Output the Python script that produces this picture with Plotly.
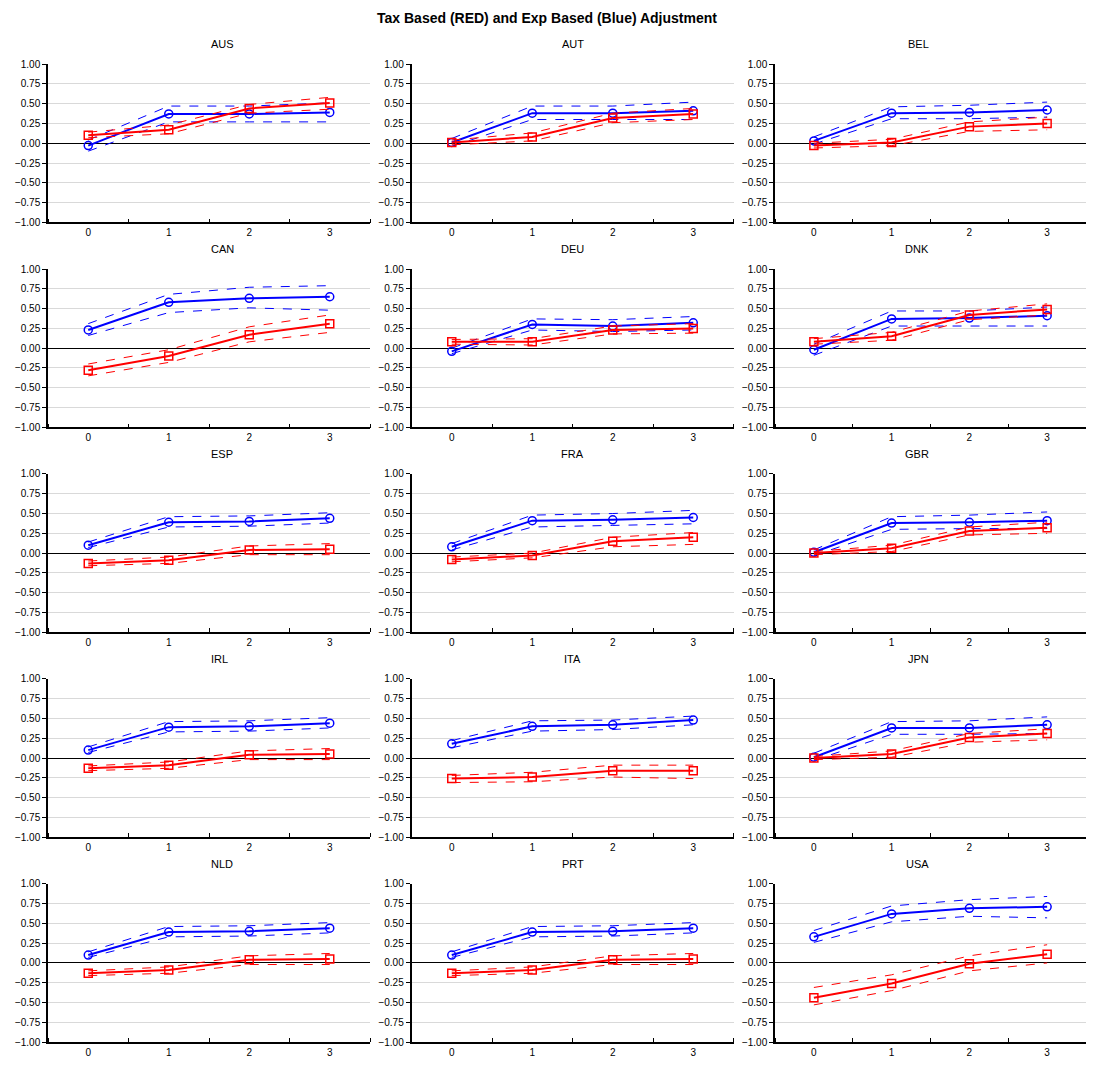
import plotly.graph_objects as go

countries = ["AUS", "AUT", "BEL", "CAN", "DEU", "DNK", "ESP", "FRA", "GBR",
             "IRL", "ITA", "JPN", "NLD", "PRT", "USA"]
horizon = [0, 1, 2, 3]

esp_b = ([0.10, 0.39, 0.40, 0.44], [0.07, 0.33, 0.34, 0.38], [0.14, 0.46, 0.47, 0.51])
esp_r = ([-0.13, -0.09, 0.04, 0.05], [-0.16, -0.13, -0.02, -0.02], [-0.10, -0.05, 0.09, 0.12])

# exp based (blue): mean, lower, upper
exp_based = {
    "AUS": ([-0.03, 0.37, 0.37, 0.39], [-0.10, 0.27, 0.27, 0.27], [0.04, 0.47, 0.47, 0.51]),
    "AUT": ([0.01, 0.38, 0.38, 0.41], [-0.04, 0.30, 0.30, 0.30], [0.06, 0.47, 0.47, 0.52]),
    "BEL": ([0.03, 0.38, 0.39, 0.42], [-0.01, 0.31, 0.31, 0.33], [0.08, 0.46, 0.48, 0.52]),
    "CAN": ([0.23, 0.58, 0.63, 0.65], [0.16, 0.45, 0.51, 0.48], [0.31, 0.68, 0.77, 0.79]),
    "DEU": ([-0.04, 0.30, 0.28, 0.32], [-0.07, 0.23, 0.21, 0.23], [0.00, 0.37, 0.36, 0.40]),
    "DNK": ([-0.02, 0.37, 0.38, 0.41], [-0.09, 0.28, 0.28, 0.28], [0.05, 0.47, 0.47, 0.52]),
    "ESP": esp_b,
    "FRA": ([0.08, 0.41, 0.42, 0.45], [0.04, 0.33, 0.35, 0.37], [0.12, 0.48, 0.50, 0.54]),
    "GBR": ([0.01, 0.38, 0.39, 0.41], [-0.03, 0.30, 0.31, 0.31], [0.04, 0.46, 0.48, 0.52]),
    "IRL": esp_b,
    "ITA": ([0.18, 0.40, 0.42, 0.48], [0.13, 0.34, 0.36, 0.42], [0.22, 0.47, 0.48, 0.53]),
    "JPN": ([0.01, 0.38, 0.38, 0.42], [-0.03, 0.30, 0.30, 0.31], [0.06, 0.46, 0.47, 0.52]),
    "NLD": esp_b,
    "PRT": esp_b,
    "USA": ([0.33, 0.62, 0.69, 0.71], [0.26, 0.52, 0.59, 0.57], [0.41, 0.72, 0.80, 0.84]),
}
# tax based (red): mean, lower, upper
tax_based = {
    "AUS": ([0.10, 0.17, 0.44, 0.51], [0.07, 0.12, 0.38, 0.43], [0.14, 0.23, 0.49, 0.58]),
    "AUT": ([0.01, 0.08, 0.32, 0.37], [-0.02, 0.03, 0.26, 0.30], [0.04, 0.13, 0.38, 0.44]),
    "BEL": ([-0.03, 0.01, 0.21, 0.25], [-0.06, -0.03, 0.15, 0.17], [0.00, 0.05, 0.27, 0.33]),
    "CAN": ([-0.28, -0.10, 0.17, 0.31], [-0.35, -0.18, 0.08, 0.20], [-0.20, -0.02, 0.27, 0.42]),
    "DEU": ([0.08, 0.08, 0.23, 0.25], [0.05, 0.04, 0.18, 0.19], [0.11, 0.12, 0.28, 0.31]),
    "DNK": ([0.08, 0.15, 0.42, 0.49], [0.05, 0.10, 0.36, 0.42], [0.12, 0.20, 0.47, 0.56]),
    "ESP": esp_r,
    "FRA": ([-0.08, -0.03, 0.15, 0.20], [-0.11, -0.06, 0.08, 0.11], [-0.05, 0.00, 0.20, 0.26]),
    "GBR": ([0.00, 0.06, 0.28, 0.32], [-0.02, 0.02, 0.23, 0.25], [0.02, 0.10, 0.33, 0.39]),
    "IRL": esp_r,
    "ITA": ([-0.26, -0.24, -0.16, -0.16], [-0.31, -0.30, -0.24, -0.26], [-0.22, -0.18, -0.09, -0.09]),
    "JPN": ([0.00, 0.05, 0.26, 0.31], [-0.02, 0.01, 0.20, 0.23], [0.02, 0.09, 0.31, 0.37]),
    "NLD": esp_r,
    "PRT": esp_r,
    "USA": ([-0.44, -0.26, -0.01, 0.11], [-0.53, -0.35, -0.10, 0.00], [-0.31, -0.15, 0.09, 0.23]),
}

OFF = 8
W, H = 1094 - 2 * OFF, 1066 - 2 * OFF
fig = go.Figure()
BLUE, RED = "#0000ff", "#ff0000"

for i, c in enumerate(countries):
    r, col = divmod(i, 3)
    n = i + 1
    xa = "x" if n == 1 else f"x{n}"
    ya = "y" if n == 1 else f"y{n}"
    for (m, lo, hi), color, sym in [(exp_based[c], BLUE, "circle-open"),
                                    (tax_based[c], RED, "square-open")]:
        for band in (lo, hi):
            fig.add_trace(go.Scatter(x=horizon, y=band, mode="lines", xaxis=xa, yaxis=ya,
                                     line=dict(color=color, width=1, dash="dash"),
                                     showlegend=False, hoverinfo="skip"))
        fig.add_trace(go.Scatter(x=horizon, y=m, mode="lines+markers", xaxis=xa, yaxis=ya,
                                 line=dict(color=color, width=2),
                                 marker=dict(symbol=sym, size=8, color=color,
                                             line=dict(width=1.5, color=color)),
                                 showlegend=False))
    left = 48 + 363.5 * col - OFF
    top = 51 + 208.5 * r
    x0, x1 = left / W, min(1.0, (left + 322) / W)
    y1, y0 = 1 - top / H, max(0.0, 1 - (top + 161) / H)
    sfx = "" if n == 1 else str(n)
    fig.layout["xaxis" + sfx] = dict(
        domain=[x0, x1], anchor=ya, range=[-0.5, 3.5], tickvals=horizon,
        ticks="", showgrid=False, zeroline=False, showline=True, linecolor="black",
        linewidth=1.5, tickfont=dict(size=10),
        minor=dict(tick0=0.5, dtick=1, ticks="inside", ticklen=4, tickcolor="black"))
    fig.layout["yaxis" + sfx] = dict(
        domain=[y0, y1], anchor=xa, range=[-1, 1], dtick=0.25, tickformat=".2f",
        ticks="outside", ticklen=4, tickcolor="black", showline=True, linecolor="black",
        linewidth=1.5, gridcolor="#d9d9d9", zeroline=True, zerolinecolor="black",
        zerolinewidth=1, tickfont=dict(size=10))
    fig.add_annotation(x=(x0 + x1) / 2, y=y1 + 12 / H, xref="paper", yref="paper",
                       text=c, showarrow=False, yanchor="bottom", font=dict(size=11))

fig.update_layout(
    width=W, height=H, margin=dict(l=0, r=0, t=0, b=0),
    paper_bgcolor="white", plot_bgcolor="white",
    font=dict(family="Liberation Sans, Arial", color="black"),
    title=dict(text="<b>Tax Based (RED) and Exp Based (Blue) Adjustment</b>",
               x=0.5, y=1 - (18 - OFF) / H, yanchor="middle", font=dict(size=14)),
)
fig.write_html("out.html")
